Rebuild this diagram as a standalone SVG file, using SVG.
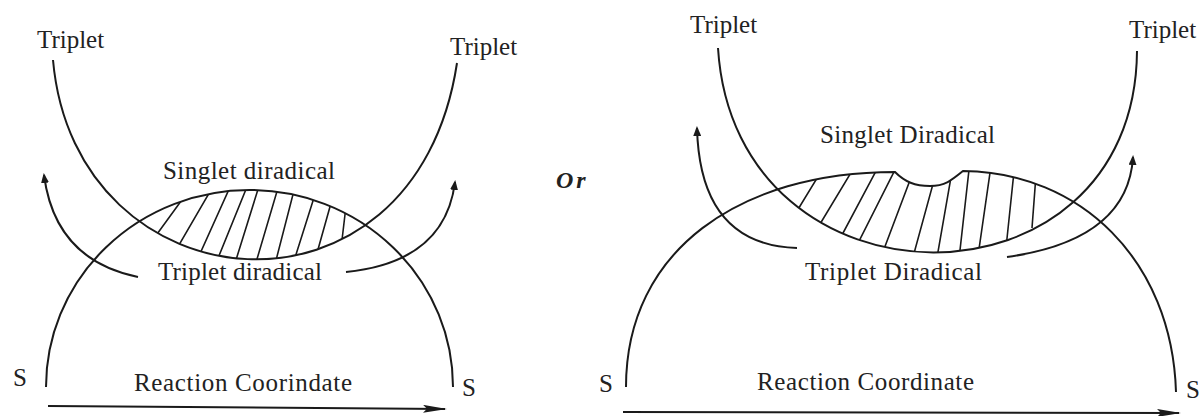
<svg xmlns="http://www.w3.org/2000/svg" width="1199" height="416" viewBox="0 0 1199 416">
<style>
.c{fill:none;stroke:#1a1a1a;stroke-width:2}
.h{fill:none;stroke:#1a1a1a;stroke-width:1.6}
.t{font-family:"Liberation Serif","Times New Roman",serif;font-size:25px;fill:#222}
.ar{fill:none;stroke:#1a1a1a;stroke-width:2;marker-end:url(#ah)}
.ax{fill:none;stroke:#1a1a1a;stroke-width:2;marker-end:url(#axh)}
</style>
<defs>
<marker id="ah" viewBox="0 0 10 8" refX="8" refY="4" markerWidth="10" markerHeight="8" markerUnits="userSpaceOnUse" orient="auto"><path d="M0,0 L10,4 L0,8 Z" fill="#1a1a1a"/></marker>
<marker id="axh" viewBox="0 0 24 8" refX="22" refY="4" markerWidth="24" markerHeight="8" markerUnits="userSpaceOnUse" orient="auto"><path d="M0,0 L24,4 L0,8 L4,4 Z" fill="#1a1a1a"/></marker>
<clipPath id="domeL"><path d="M46,387 A203.5,197 0 0 1 453,387 Z"/></clipPath>
<clipPath id="uL"><path d="M53,60 C75,310 415,340 457,63 Z"/></clipPath>
<clipPath id="domeR"><path d="M626,387 C626,250 740,172 895,172 C905,182 915,186 930,186 C945,186 952,180 963,171 C1080,172 1172,260 1176,392 Z"/></clipPath>
<clipPath id="uR"><path d="M718,48 C735,320 1135,320 1137,51 Z"/></clipPath>
</defs>

<g id="left-panel">
  <g id="triplet-curve-left">
    <path class="c" d="M53,60 C75,310 415,340 457,63"/>
    <text class="t" x="37" y="48">Triplet</text>
    <text class="t" x="450" y="55">Triplet</text>
  </g>
  <g id="singlet-curve-left">
    <path class="c" d="M46,387 A203.5,197 0 0 1 453,387"/>
    <text class="t" x="13" y="386">S</text>
    <text class="t" x="462" y="396">S</text>
  </g>
  <g id="hatch-left" clip-path="url(#domeL)">
    <g clip-path="url(#uL)">
      <path class="h" d="M152,241 L184,197 M172,257 L215,183 M194,267 L235,176 M212,273 L253,172 M231,276 L264,170 M252,276 L283,171 M273,272 L298,175 M293,264 L318,185 M317,253 L333,196 M342,240 L346,206"/>
    </g>
  </g>
  <g id="labels-left">
    <text class="t" x="163" y="179" textLength="172">Singlet diradical</text>
    <text class="t" x="158" y="280" textLength="164">Triplet diradical</text>
    <text class="t" x="134" y="391" textLength="218">Reaction Coorindate</text>
  </g>
</g>

<g id="or-label">
  <text x="556" y="188" style="font-family:'Liberation Serif','Times New Roman',serif;font-size:24px;font-weight:bold;font-style:italic;fill:#222;letter-spacing:3px">Or</text>
</g>

<g id="right-panel">
  <g id="triplet-curve-right">
    <path class="c" d="M718,48 C735,320 1135,320 1137,51"/>
    <text class="t" x="690" y="33">Triplet</text>
    <text class="t" x="1129" y="38">Triplet</text>
  </g>
  <g id="singlet-curve-right">
    <path class="c" d="M626,387 C626,250 740,172 895,172 C905,182 915,186 930,186 C945,186 952,180 963,171 C1080,172 1172,260 1176,392"/>
    <text class="t" x="599" y="392">S</text>
    <text class="t" x="1186" y="398">S</text>
  </g>
  <g id="hatch-right" clip-path="url(#domeR)">
    <g clip-path="url(#uR)">
      <path class="h" d="M797,211 L822,170 M814,234 L858,161 M834,250 L884,156 M850,259 L903,154 M878,265 L918,159 M910,268 L939,162 M935,269 L954,160 M958,268 L971,152 M977,263 L993,152 M1006,248 L1015,162 M1032,228 L1036,175"/>
    </g>
  </g>
  <g id="labels-right">
    <text class="t" x="820" y="143" textLength="175">Singlet Diradical</text>
    <text class="t" x="805" y="280" textLength="177">Triplet  Diradical</text>
    <text class="t" x="757" y="390" textLength="217">Reaction Coordinate</text>
  </g>
</g>

<g id="connectors">
  <path class="ar" d="M138,277 Q55,260 44,175"/>
  <path class="ar" d="M346,272 Q445,262 455,182"/>
  <path class="ar" d="M797,248 Q700,245 697,128"/>
  <path class="ar" d="M1007,257 Q1128,240 1133,157"/>
  <path class="ax" d="M48,406 L445,409"/>
  <path class="ax" d="M623,412 L1179,413"/>
</g>
</svg>
